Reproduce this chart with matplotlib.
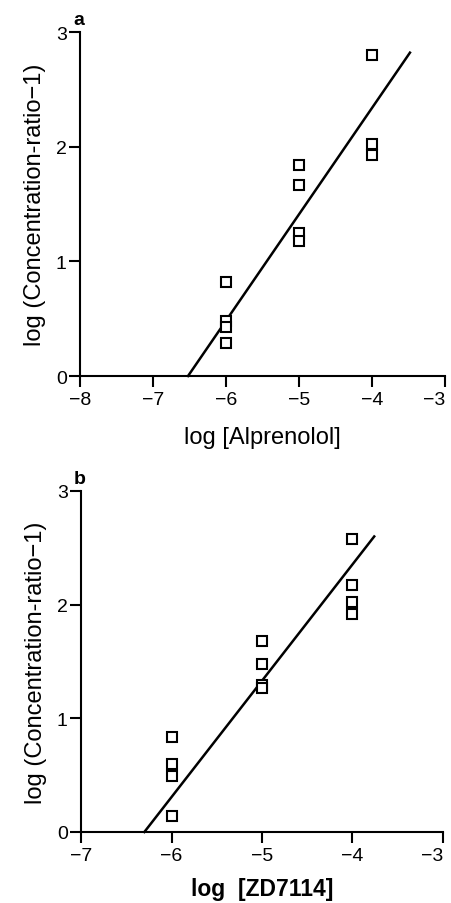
import matplotlib
matplotlib.use('Agg')
import matplotlib.pyplot as plt
import numpy as np

plt.rcParams['font.family'] = ['Liberation Sans', 'DejaVu Sans']

# Panel a: alprenolol
alp_x = [-6, -6, -6, -6, -5, -5, -5, -5, -4, -4, -4]
alp_y = [0.82, 0.48, 0.43, 0.29, 1.84, 1.67, 1.25, 1.18, 2.80, 2.02, 1.93]
alp_fit_x = [-6.52, -3.48]
alp_fit_y = [0.0, 2.82]

# Panel b: ZD7114
zd_x = [-6, -6, -6, -6, -5, -5, -5, -5, -4, -4, -4, -4]
zd_y = [0.84, 0.60, 0.49, 0.14, 1.68, 1.48, 1.29, 1.27, 2.58, 2.17, 2.02, 1.92]
zd_fit_x = [-6.30, -3.76]
zd_fit_y = [0.0, 2.60]

W, H = 452, 904
fig = plt.figure(figsize=(W / 100, H / 100), dpi=100)

def make_axes(l, r, t, b):
    return fig.add_axes([l / W, 1 - b / H, (r - l) / W, (b - t) / H])

def style(ax, xlim, xticks, xlabel, letter, xpad, bold_label=False):
    ax.set_xlim(xlim)
    ax.set_ylim(0, 3)
    ax.set_xticks(xticks)
    ax.set_xticklabels(['\u2212%d' % abs(v) for v in xticks])
    # last label sits flush with the right edge, as in the original
    ax.get_xticklabels()[-1].set_horizontalalignment('right')
    ax.set_yticks([0, 1, 2, 3])
    for s in ['top', 'right']:
        ax.spines[s].set_visible(False)
    for s in ['left', 'bottom']:
        ax.spines[s].set_linewidth(1.5)
        ax.spines[s].set_clip_on(False)
    ax.tick_params(direction='out', length=8, width=1.5, labelsize=14)
    ax.tick_params(axis='x', pad=3)
    ax.tick_params(axis='y', pad=1.5)
    ax.set_ylabel('log (Concentration-ratio\u22121)', fontsize=17, labelpad=7)
    ax.set_xlabel(xlabel, fontsize=16.5 if bold_label else 17, labelpad=xpad,
                  fontweight='bold' if bold_label else 'normal')
    ax.text(-0.019, 1.023, letter, transform=ax.transAxes, fontsize=14,
            fontweight='bold', ha='left', va='baseline')

ax1 = make_axes(80, 445, 33, 377)
ax1.plot(alp_fit_x, alp_fit_y, color='black', lw=1.8, clip_on=False)
ax1.plot(alp_x, alp_y, 's', ms=7.5, mfc='white', mec='black', mew=1.5,
         clip_on=False)
style(ax1, (-8, -3), [-8, -7, -6, -5, -4, -3], 'log [Alprenolol]', 'a', 13)

ax2 = make_axes(81, 443, 492, 833)
ax2.plot(zd_fit_x, zd_fit_y, color='black', lw=1.8, clip_on=False)
ax2.plot(zd_x, zd_y, 's', ms=7.5, mfc='white', mec='black', mew=1.5,
         clip_on=False)
style(ax2, (-7, -3), [-7, -6, -5, -4, -3], 'log  [ZD7114]', 'b', 9,
      bold_label=True)

fig.savefig('out.png', dpi=100)
